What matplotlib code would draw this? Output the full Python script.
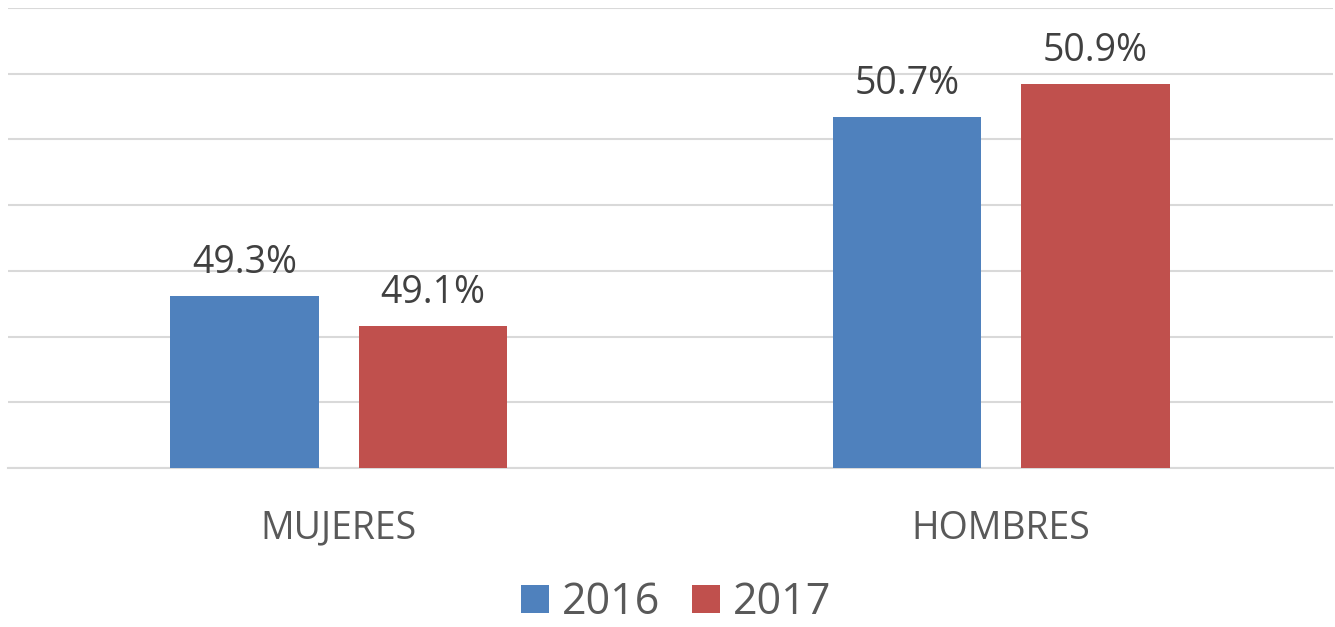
import matplotlib
matplotlib.use("Agg")
import matplotlib.pyplot as plt
import numpy as np

categories = ["MUJERES", "HOMBRES"]
years = ["2016", "2017"]
values_2016 = [49.31, 50.67]
values_2017 = [49.08, 50.92]
colors = ["#4F81BD", "#C0504D"]

plt.rcParams['font.family'] = ['Open Sans', 'DejaVu Sans']

fig = plt.figure(figsize=(13.35, 6.27), dpi=100)
ax = fig.add_axes([7.5/1335, 159/627, 1325/1335, 460/627])

x = np.arange(len(categories))
w = 0.224
off = 0.142
series = [values_2016, values_2017]
for i, (vals, col, yr) in enumerate(zip(series, colors, years)):
    pos = x + (-off if i == 0 else off)
    bars = ax.bar(pos, vals, width=w, color=col, label=yr, zorder=3)
    for b, v in zip(bars, vals):
        ax.annotate(f"{v:.1f}%", (b.get_x() + b.get_width()/2, v),
                    xytext=(0, 10), textcoords="offset points",
                    ha="center", va="bottom", fontsize=27, color="#404040")

ax.set_xlim(-0.5, 1.5)
ax.set_ylim(48, 51.5)
ax.set_yticks(np.arange(48, 51.51, 0.5))
ax.yaxis.grid(True, color="#D9D9D9", lw=1.5, zorder=0)
ax.tick_params(axis="y", left=False, labelleft=False)
ax.set_xticks(x)
ax.set_xticklabels(categories, fontsize=27, color="#595959")
ax.tick_params(axis="x", length=0, pad=30)
for s in ["top", "right", "left"]:
    ax.spines[s].set_visible(False)
ax.spines["bottom"].set_color("#D9D9D9")
ax.spines["bottom"].set_linewidth(1.5)

leg = fig.legend(loc="center", bbox_to_anchor=(676/1335, 1 - 603/627), ncol=2,
                 frameon=False, fontsize=31, handlelength=0.65, handleheight=0.65,
                 handletextpad=0.3, columnspacing=0.75, labelcolor="#595959")

fig.savefig("out.png", dpi=100)
